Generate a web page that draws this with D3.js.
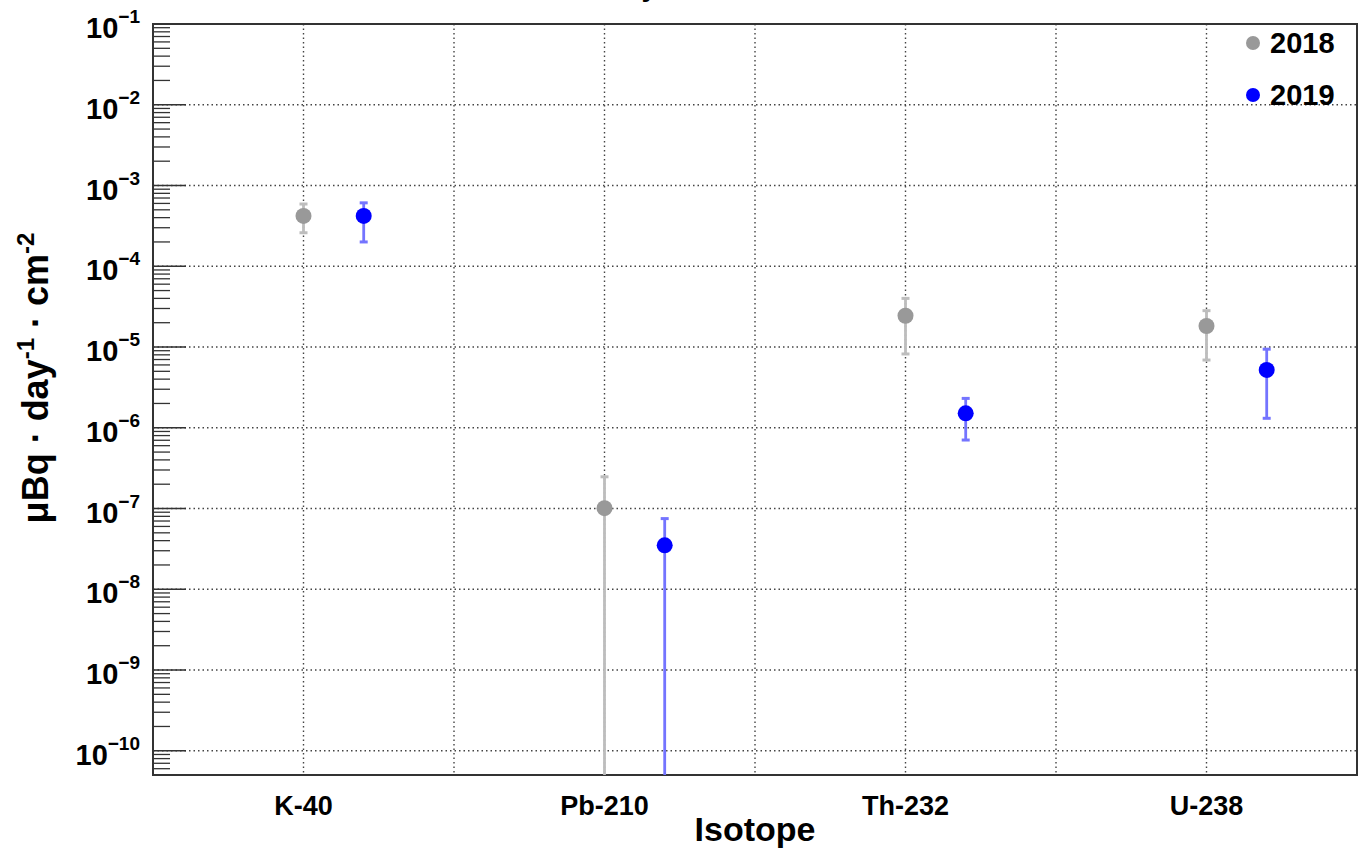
<!DOCTYPE html>
<html>
<head>
<meta charset="utf-8">
<script src="https://cdn.jsdelivr.net/npm/d3@7/dist/d3.min.js"></script>
<style>
  body { margin:0; background:#fff; }
  text { font-family: "Liberation Sans", Arial, sans-serif; font-weight: bold; fill:#000; }
</style>
</head>
<body>
<div id="chart"></div>
<script>
// isotopes and the two measurement years
var isotopes = ["K-40", "Pb-210", "Th-232", "U-238"];
var years = ["2018", "2019"];

// central values (uBq / day / cm2)
var values2018 = [4.2e-4, 1.01e-7, 2.44e-5, 1.82e-5];
var values2019 = [4.2e-4, 3.5e-8, 1.51e-6, 5.2e-6];
// error bar ends, 0 means the bar runs below the axis
var upper2018 = [5.9e-4, 2.47e-7, 4.0e-5, 2.82e-5];
var lower2018 = [2.6e-4, 0, 8.2e-6, 6.9e-6];
var upper2019 = [6.1e-4, 7.5e-8, 2.31e-6, 9.4e-6];
var lower2019 = [2.0e-4, 0, 7.05e-7, 1.31e-6];

var yTickExps = [-1, -2, -3, -4, -5, -6, -7, -8, -9, -10];

(function(){
    var width = 1366,
        height = 850;
    var left = 153, right = 1357, top = 24, bottom = 775;

    var svg = d3.select("#chart")
        .append("svg")
        .attr("width", width)
        .attr("height", height);

    var x = d3.scaleLinear().domain([0, isotopes.length]).range([left, right]);
    var y = d3.scaleLog().domain([Math.pow(10, -10.3), 1e-1]).range([bottom, top]).clamp(true);

    // title, mostly cut off at the top of the picture
    svg.append("text")
        .attr("x", 657).attr("y", -4)
        .attr("text-anchor", "end")
        .style("font-size", "28px")
        .text("Activity");

    // grid
    var gridX = d3.range(1, isotopes.length * 2).map(function(k){ return k / 2; });
    svg.append("g").selectAll("line")
        .data(gridX).enter().append("line")
        .attr("x1", function(d){ return x(d); })
        .attr("x2", function(d){ return x(d); })
        .attr("y1", top).attr("y2", bottom)
        .attr("stroke", "#444").attr("stroke-width", 1.4)
        .attr("stroke-dasharray", "1.5,3");

    svg.append("g").selectAll("line")
        .data(yTickExps).enter().append("line")
        .attr("x1", left).attr("x2", right)
        .attr("y1", function(d){ return y(Math.pow(10, d)); })
        .attr("y2", function(d){ return y(Math.pow(10, d)); })
        .attr("stroke", "#444").attr("stroke-width", 1.4)
        .attr("stroke-dasharray", "1.5,3");

    // y ticks, drawn inside the frame
    var minor = [];
    d3.range(-11, -1).forEach(function(e){
        d3.range(2, 10).forEach(function(m){
            var v = m * Math.pow(10, e);
            if (v > y.domain()[0] && v < 1e-1) minor.push(v);
        });
    });
    svg.append("g").selectAll("line")
        .data(minor).enter().append("line")
        .attr("x1", left).attr("x2", left + 17)
        .attr("y1", function(d){ return y(d); })
        .attr("y2", function(d){ return y(d); })
        .attr("stroke", "#333").attr("stroke-width", 1.3);
    svg.append("g").selectAll("line")
        .data(yTickExps).enter().append("line")
        .attr("x1", left).attr("x2", left + 33)
        .attr("y1", function(d){ return y(Math.pow(10, d)); })
        .attr("y2", function(d){ return y(Math.pow(10, d)); })
        .attr("stroke", "#333").attr("stroke-width", 1.6);

    var labels = svg.append("g").selectAll("text")
        .data(yTickExps).enter().append("text")
        .attr("x", 140)
        .attr("y", function(d){ return y(Math.pow(10, d)) + 14; })
        .attr("text-anchor", "end");
    labels.append("tspan").style("font-size", "29px").text("10");
    labels.append("tspan").style("font-size", "19px")
        .attr("dy", -15)
        .text(function(d){ return "\u2212" + (-d); });

    // frame
    svg.append("rect")
        .attr("x", left).attr("y", top)
        .attr("width", right - left).attr("height", bottom - top)
        .attr("fill", "none").attr("stroke", "#333").attr("stroke-width", 2);

    // category labels
    svg.append("g").selectAll("text")
        .data(isotopes).enter().append("text")
        .attr("x", function(d, i){ return x(i + 0.5); })
        .attr("y", 815)
        .attr("text-anchor", "middle")
        .style("font-size", "27px")
        .text(function(d){ return d; });

    svg.append("text")
        .attr("x", (left + right) / 2).attr("y", 841)
        .attr("text-anchor", "middle")
        .style("font-size", "34px")
        .text("Isotope");

    var ytitle = svg.append("text")
        .attr("transform", "translate(48,378) rotate(-90)")
        .attr("text-anchor", "middle")
        .style("font-size", "36px");
    ytitle.append("tspan").text("\u03bcBq \u00b7 day");
    ytitle.append("tspan").attr("dy", -14).style("font-size", "24px").text("-1");
    ytitle.append("tspan").attr("dy", 14).text(" \u00b7 cm");
    ytitle.append("tspan").attr("dy", -14).style("font-size", "24px").text("-2");

    // data series
    var series = [
        {name: years[0], vals: values2018, up: upper2018, lo: lower2018, offset: 0.5, dot: "#999999", bar: "#bdbdbd"},
        {name: years[1], vals: values2019, up: upper2019, lo: lower2019, offset: 0.7, dot: "#0000ff", bar: "#7474ff"}
    ];

    series.forEach(function(s){
        var g = svg.append("g");
        var pts = s.vals.map(function(v, i){
            return {x: x(i + s.offset), v: v, up: s.up[i], lo: s.lo[i]};
        });
        g.selectAll(".bar").data(pts).enter().append("line")
            .attr("x1", function(d){ return d.x; })
            .attr("x2", function(d){ return d.x; })
            .attr("y1", function(d){ return y(d.up); })
            .attr("y2", function(d){ return d.lo > 0 ? y(d.lo) : bottom; })
            .attr("stroke", s.bar).attr("stroke-width", 2.8);
        g.selectAll(".capup").data(pts).enter().append("line")
            .attr("x1", function(d){ return d.x - 4; })
            .attr("x2", function(d){ return d.x + 4; })
            .attr("y1", function(d){ return y(d.up); })
            .attr("y2", function(d){ return y(d.up); })
            .attr("stroke", s.bar).attr("stroke-width", 3);
        g.selectAll(".caplo").data(pts.filter(function(d){ return d.lo > 0; })).enter().append("line")
            .attr("x1", function(d){ return d.x - 4; })
            .attr("x2", function(d){ return d.x + 4; })
            .attr("y1", function(d){ return y(d.lo); })
            .attr("y2", function(d){ return y(d.lo); })
            .attr("stroke", s.bar).attr("stroke-width", 3);
        g.selectAll("circle").data(pts).enter().append("circle")
            .attr("cx", function(d){ return d.x; })
            .attr("cy", function(d){ return y(d.v); })
            .attr("r", 8)
            .attr("fill", s.dot);
    });

    // legend
    var legend = svg.append("g").selectAll("g")
        .data(series).enter().append("g")
        .attr("transform", function(d, i){ return "translate(1253," + (43 + i * 52) + ")"; });
    legend.append("circle").attr("r", 7).attr("fill", function(d){ return d.dot; });
    legend.append("text")
        .attr("x", 17).attr("y", 10)
        .style("font-size", "29px")
        .text(function(d){ return d.name; });
})();
</script>
</body>
</html>
